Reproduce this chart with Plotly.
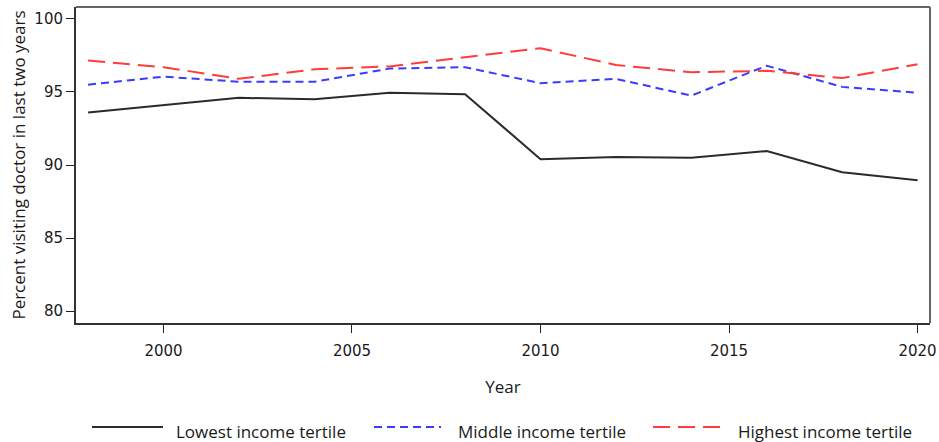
import plotly.graph_objects as go

years = [1998, 2000, 2002, 2004, 2006, 2008, 2010, 2012, 2014, 2016, 2018, 2020]
lowest = [93.6, 94.1, 94.6, 94.5, 94.95, 94.85, 90.4, 90.55, 90.5, 90.95, 89.5, 88.95]
middle = [95.5, 96.05, 95.7, 95.7, 96.6, 96.7, 95.6, 95.9, 94.75, 96.8, 95.35, 94.95]
highest = [97.15, 96.7, 95.9, 96.55, 96.75, 97.35, 98.0, 96.85, 96.35, 96.45, 95.95, 96.9]

series_names = ["Lowest income tertile", "Middle income tertile", "Highest income tertile"]
series_colors = ["#2b2b2b", "#3b3bff", "#ff3b3b"]
series_dash = ["solid", "8px,5px", "17px,8px"]

x_ticks = [2000, 2005, 2010, 2015, 2020]
y_ticks = [80, 85, 90, 95, 100]

FONT = "Open Sans"
TICKFONT = "DejaVu Sans"

fig = go.Figure()
for name, vals, col, dash in zip(series_names, [lowest, middle, highest], series_colors, series_dash):
    fig.add_trace(go.Scatter(x=years, y=vals, mode="lines", name=name,
                             line=dict(color=col, width=2, dash=dash),
                             showlegend=False))

W, H = 939, 442
L, R, T, B = 76, 9, 7, 119
pw = W - L - R
ph = H - T - B

fig.update_layout(
    width=W, height=H,
    margin=dict(l=L, r=R, t=T, b=B, autoexpand=False),
    paper_bgcolor="white", plot_bgcolor="white",
    font=dict(family=FONT, color="#1a1a1a", size=14),
    xaxis=dict(range=[1997.68, 2020.33], tickvals=x_ticks, ticks="outside", ticklen=8,
               tickwidth=1.2, tickcolor="#222", showgrid=False, zeroline=False,
               showline=True, linecolor="#333", linewidth=2, automargin=False,
               ticklabelstandoff=5,
               tickfont=dict(size=15, family=TICKFONT, color="#1a1a1a"),
               title=dict(text="Year", font=dict(size=17, family=FONT), standoff=22)),
    yaxis=dict(range=[79.18, 100.82], tickvals=y_ticks, ticks="outside", ticklen=8,
               tickwidth=1.2, tickcolor="#222", showgrid=False, zeroline=False,
               showline=True, linecolor="#333", linewidth=2, automargin=False,
               tickfont=dict(size=15, family=TICKFONT, color="#1a1a1a"),
               title=dict(text="Percent visiting doctor in last two years",
                          font=dict(size=17, family=FONT), standoff=4)),
)

# top and right frame lines
fig.add_shape(type="line", xref="paper", yref="paper", x0=0, x1=1, y0=1, y1=1,
              line=dict(color="#666", width=2))
fig.add_shape(type="line", xref="paper", yref="paper", x0=1, x1=1, y0=0, y1=1,
              line=dict(color="#666", width=2))

# manual legend below the plot
leg_y_px = 427
ly = -(leg_y_px - (T + ph)) / ph
items = [(92, 163, 174), (374, 441, 456), (653, 721, 736)]
for (x0p, x1p, tx), name, col, dash in zip(items, series_names, series_colors, series_dash):
    fig.add_shape(type="line", xref="paper", yref="paper",
                  x0=(x0p - L) / pw, x1=(x1p - L) / pw, y0=ly, y1=ly,
                  line=dict(color=col, width=2, dash=dash))
    fig.add_annotation(xref="paper", yref="paper", x=(tx - L) / pw, y=-(431 - (T + ph)) / ph,
                       text=name, showarrow=False, xanchor="left", yanchor="middle",
                       font=dict(size=17, family=FONT, color="#1a1a1a"))

fig.write_html("out.html", config={"displayModeBar": False},
               post_script="document.body.style.margin='0px';")
